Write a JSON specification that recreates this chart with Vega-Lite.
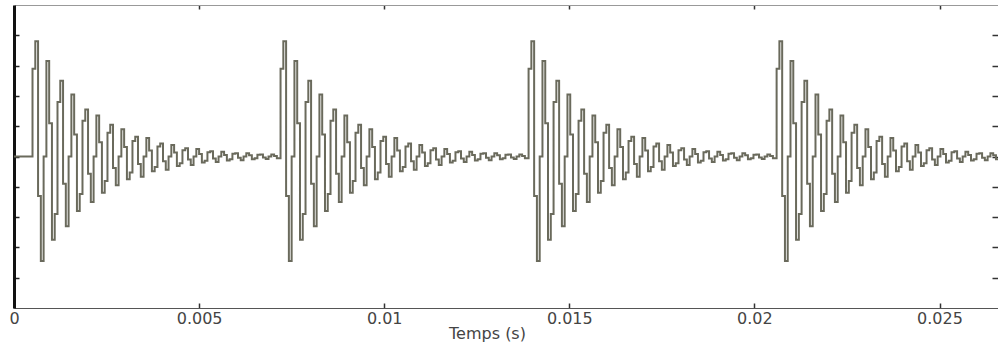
{
"$schema": "https://vega.github.io/schema/vega-lite/v6.json",
"width": 984, "height": 303,
"autosize": {"type": "none"},
"padding": {"left": 14, "top": 5, "right": 0, "bottom": 37},
"background": "white",
"config": {"view": {"stroke": null}, "font": "DejaVu Sans", "axis": {"grid": false}},
"data": {"values": [
{"t":0,"v":0},
{"t":0.0005,"v":2.9},{"t":0.000575,"v":3.8},{"t":0.00065,"v":-1.3},{"t":0.000725,"v":-3.45},{"t":0.0008,"v":0},{"t":0.000875,"v":3.15},{"t":0.00095,"v":1.1},{"t":0.001025,"v":-2.75},{"t":0.0011,"v":-1.9},{"t":0.001175,"v":1.8},{"t":0.00125,"v":2.5},{"t":0.001325,"v":-0.9},{"t":0.0014,"v":-2.3},{"t":0.001475,"v":0},{"t":0.00155,"v":2.05},{"t":0.001625,"v":0.73},{"t":0.0017,"v":-1.8},{"t":0.001775,"v":-1.24},{"t":0.00185,"v":1.18},{"t":0.001925,"v":1.55},{"t":0.002,"v":-0.57},{"t":0.002075,"v":-1.5},{"t":0.00215,"v":0},{"t":0.002225,"v":1.35},{"t":0.0023,"v":0.47},{"t":0.002375,"v":-1.2},{"t":0.00245,"v":-0.81},{"t":0.002525,"v":0.78},{"t":0.0026,"v":1.05},{"t":0.002675,"v":-0.38},{"t":0.00275,"v":-0.95},{"t":0.002825,"v":0},{"t":0.0029,"v":0.9},{"t":0.002975,"v":0.31},{"t":0.00305,"v":-0.75},{"t":0.003125,"v":-0.53},{"t":0.0032,"v":0.51},{"t":0.003275,"v":0.65},{"t":0.00335,"v":-0.25},{"t":0.003425,"v":-0.67},{"t":0.0035,"v":0},{"t":0.003575,"v":0.61},{"t":0.00365,"v":0.2},{"t":0.003725,"v":-0.49},{"t":0.0038,"v":-0.35},{"t":0.003875,"v":0.33},{"t":0.00395,"v":0.43},{"t":0.004025,"v":-0.16},{"t":0.0041,"v":-0.44},{"t":0.004175,"v":0},{"t":0.00425,"v":0.38},{"t":0.004325,"v":0.13},{"t":0.0044,"v":-0.31},{"t":0.004475,"v":-0.22},{"t":0.00455,"v":0.21},{"t":0.004625,"v":0.27},{"t":0.0047,"v":-0.1},{"t":0.004775,"v":-0.28},{"t":0.00485,"v":0},{"t":0.004925,"v":0.25},{"t":0.005,"v":0.08},{"t":0.005075,"v":-0.2},{"t":0.00515,"v":-0.14},{"t":0.005225,"v":0.14},{"t":0.0053,"v":0.17},{"t":0.005375,"v":-0.07},{"t":0.00545,"v":-0.18},{"t":0.005525,"v":0},{"t":0.0056,"v":0.16},{"t":0.005675,"v":0.05},{"t":0.00575,"v":-0.13},{"t":0.005825,"v":-0.09},{"t":0.0059,"v":0.09},{"t":0.005975,"v":0.11},{"t":0.00605,"v":-0.04},{"t":0.006125,"v":-0.12},{"t":0.0062,"v":0},{"t":0.006275,"v":0.11},{"t":0.00635,"v":0.04},{"t":0.006425,"v":-0.09},{"t":0.0065,"v":-0.06},{"t":0.006575,"v":0.06},{"t":0.00665,"v":0.07},{"t":0.006725,"v":-0.03},{"t":0.0068,"v":-0.08},{"t":0.006875,"v":0},{"t":0.00695,"v":0.07},{"t":0.007025,"v":0.02},{"t":0.0071,"v":-0.06},
{"t":0.0072,"v":2.9},{"t":0.007275,"v":3.8},{"t":0.00735,"v":-1.3},{"t":0.007425,"v":-3.45},{"t":0.0075,"v":0},{"t":0.007575,"v":3.15},{"t":0.00765,"v":1.1},{"t":0.007725,"v":-2.75},{"t":0.0078,"v":-1.9},{"t":0.007875,"v":1.8},{"t":0.00795,"v":2.5},{"t":0.008025,"v":-0.9},{"t":0.0081,"v":-2.3},{"t":0.008175,"v":0},{"t":0.00825,"v":2.05},{"t":0.008325,"v":0.73},{"t":0.0084,"v":-1.8},{"t":0.008475,"v":-1.24},{"t":0.00855,"v":1.18},{"t":0.008625,"v":1.55},{"t":0.0087,"v":-0.57},{"t":0.008775,"v":-1.5},{"t":0.00885,"v":0},{"t":0.008925,"v":1.35},{"t":0.009,"v":0.47},{"t":0.009075,"v":-1.2},{"t":0.00915,"v":-0.81},{"t":0.009225,"v":0.78},{"t":0.0093,"v":1.05},{"t":0.009375,"v":-0.38},{"t":0.00945,"v":-0.95},{"t":0.009525,"v":0},{"t":0.0096,"v":0.9},{"t":0.009675,"v":0.31},{"t":0.00975,"v":-0.75},{"t":0.009825,"v":-0.53},{"t":0.0099,"v":0.51},{"t":0.009975,"v":0.65},{"t":0.01005,"v":-0.25},{"t":0.010125,"v":-0.67},{"t":0.0102,"v":0},{"t":0.010275,"v":0.61},{"t":0.01035,"v":0.2},{"t":0.010425,"v":-0.49},{"t":0.0105,"v":-0.35},{"t":0.010575,"v":0.33},{"t":0.01065,"v":0.43},{"t":0.010725,"v":-0.16},{"t":0.0108,"v":-0.44},{"t":0.010875,"v":0},{"t":0.01095,"v":0.38},{"t":0.011025,"v":0.13},{"t":0.0111,"v":-0.31},{"t":0.011175,"v":-0.22},{"t":0.01125,"v":0.21},{"t":0.011325,"v":0.27},{"t":0.0114,"v":-0.1},{"t":0.011475,"v":-0.28},{"t":0.01155,"v":0},{"t":0.011625,"v":0.25},{"t":0.0117,"v":0.08},{"t":0.011775,"v":-0.2},{"t":0.01185,"v":-0.14},{"t":0.011925,"v":0.14},{"t":0.012,"v":0.17},{"t":0.012075,"v":-0.07},{"t":0.01215,"v":-0.18},{"t":0.012225,"v":0},{"t":0.0123,"v":0.16},{"t":0.012375,"v":0.05},{"t":0.01245,"v":-0.13},{"t":0.012525,"v":-0.09},{"t":0.0126,"v":0.09},{"t":0.012675,"v":0.11},{"t":0.01275,"v":-0.04},{"t":0.012825,"v":-0.12},{"t":0.0129,"v":0},{"t":0.012975,"v":0.11},{"t":0.01305,"v":0.04},{"t":0.013125,"v":-0.09},{"t":0.0132,"v":-0.06},{"t":0.013275,"v":0.06},{"t":0.01335,"v":0.07},{"t":0.013425,"v":-0.03},{"t":0.0135,"v":-0.08},{"t":0.013575,"v":0},{"t":0.01365,"v":0.07},{"t":0.013725,"v":0.02},{"t":0.0138,"v":-0.06},
{"t":0.0139,"v":2.9},{"t":0.013975,"v":3.8},{"t":0.01405,"v":-1.3},{"t":0.014125,"v":-3.45},{"t":0.0142,"v":0},{"t":0.014275,"v":3.15},{"t":0.01435,"v":1.1},{"t":0.014425,"v":-2.75},{"t":0.0145,"v":-1.9},{"t":0.014575,"v":1.8},{"t":0.01465,"v":2.5},{"t":0.014725,"v":-0.9},{"t":0.0148,"v":-2.3},{"t":0.014875,"v":0},{"t":0.01495,"v":2.05},{"t":0.015025,"v":0.73},{"t":0.0151,"v":-1.8},{"t":0.015175,"v":-1.24},{"t":0.01525,"v":1.18},{"t":0.015325,"v":1.55},{"t":0.0154,"v":-0.57},{"t":0.015475,"v":-1.5},{"t":0.01555,"v":0},{"t":0.015625,"v":1.35},{"t":0.0157,"v":0.47},{"t":0.015775,"v":-1.2},{"t":0.01585,"v":-0.81},{"t":0.015925,"v":0.78},{"t":0.016,"v":1.05},{"t":0.016075,"v":-0.38},{"t":0.01615,"v":-0.95},{"t":0.016225,"v":0},{"t":0.0163,"v":0.9},{"t":0.016375,"v":0.31},{"t":0.01645,"v":-0.75},{"t":0.016525,"v":-0.53},{"t":0.0166,"v":0.51},{"t":0.016675,"v":0.65},{"t":0.01675,"v":-0.25},{"t":0.016825,"v":-0.67},{"t":0.0169,"v":0},{"t":0.016975,"v":0.61},{"t":0.01705,"v":0.2},{"t":0.017125,"v":-0.49},{"t":0.0172,"v":-0.35},{"t":0.017275,"v":0.33},{"t":0.01735,"v":0.43},{"t":0.017425,"v":-0.16},{"t":0.0175,"v":-0.44},{"t":0.017575,"v":0},{"t":0.01765,"v":0.38},{"t":0.017725,"v":0.13},{"t":0.0178,"v":-0.31},{"t":0.017875,"v":-0.22},{"t":0.01795,"v":0.21},{"t":0.018025,"v":0.27},{"t":0.0181,"v":-0.1},{"t":0.018175,"v":-0.28},{"t":0.01825,"v":0},{"t":0.018325,"v":0.25},{"t":0.0184,"v":0.08},{"t":0.018475,"v":-0.2},{"t":0.01855,"v":-0.14},{"t":0.018625,"v":0.14},{"t":0.0187,"v":0.17},{"t":0.018775,"v":-0.07},{"t":0.01885,"v":-0.18},{"t":0.018925,"v":0},{"t":0.019,"v":0.16},{"t":0.019075,"v":0.05},{"t":0.01915,"v":-0.13},{"t":0.019225,"v":-0.09},{"t":0.0193,"v":0.09},{"t":0.019375,"v":0.11},{"t":0.01945,"v":-0.04},{"t":0.019525,"v":-0.12},{"t":0.0196,"v":0},{"t":0.019675,"v":0.11},{"t":0.01975,"v":0.04},{"t":0.019825,"v":-0.09},{"t":0.0199,"v":-0.06},{"t":0.019975,"v":0.06},{"t":0.02005,"v":0.07},{"t":0.020125,"v":-0.03},{"t":0.0202,"v":-0.08},{"t":0.020275,"v":0},{"t":0.02035,"v":0.07},{"t":0.020425,"v":0.02},{"t":0.0205,"v":-0.06},
{"t":0.0206,"v":2.9},{"t":0.020675,"v":3.8},{"t":0.02075,"v":-1.3},{"t":0.020825,"v":-3.45},{"t":0.0209,"v":0},{"t":0.020975,"v":3.15},{"t":0.02105,"v":1.1},{"t":0.021125,"v":-2.75},{"t":0.0212,"v":-1.9},{"t":0.021275,"v":1.8},{"t":0.02135,"v":2.5},{"t":0.021425,"v":-0.9},{"t":0.0215,"v":-2.3},{"t":0.021575,"v":0},{"t":0.02165,"v":2.05},{"t":0.021725,"v":0.73},{"t":0.0218,"v":-1.8},{"t":0.021875,"v":-1.24},{"t":0.02195,"v":1.18},{"t":0.022025,"v":1.55},{"t":0.0221,"v":-0.57},{"t":0.022175,"v":-1.5},{"t":0.02225,"v":0},{"t":0.022325,"v":1.35},{"t":0.0224,"v":0.47},{"t":0.022475,"v":-1.2},{"t":0.02255,"v":-0.81},{"t":0.022625,"v":0.78},{"t":0.0227,"v":1.05},{"t":0.022775,"v":-0.38},{"t":0.02285,"v":-0.95},{"t":0.022925,"v":0},{"t":0.023,"v":0.9},{"t":0.023075,"v":0.31},{"t":0.02315,"v":-0.75},{"t":0.023225,"v":-0.53},{"t":0.0233,"v":0.51},{"t":0.023375,"v":0.65},{"t":0.02345,"v":-0.25},{"t":0.023525,"v":-0.67},{"t":0.0236,"v":0},{"t":0.023675,"v":0.61},{"t":0.02375,"v":0.2},{"t":0.023825,"v":-0.49},{"t":0.0239,"v":-0.35},{"t":0.023975,"v":0.33},{"t":0.02405,"v":0.43},{"t":0.024125,"v":-0.16},{"t":0.0242,"v":-0.44},{"t":0.024275,"v":0},{"t":0.02435,"v":0.38},{"t":0.024425,"v":0.13},{"t":0.0245,"v":-0.31},{"t":0.024575,"v":-0.22},{"t":0.02465,"v":0.21},{"t":0.024725,"v":0.27},{"t":0.0248,"v":-0.1},{"t":0.024875,"v":-0.28},{"t":0.02495,"v":0},{"t":0.025025,"v":0.25},{"t":0.0251,"v":0.08},{"t":0.025175,"v":-0.2},{"t":0.02525,"v":-0.14},{"t":0.025325,"v":0.14},{"t":0.0254,"v":0.17},{"t":0.025475,"v":-0.07},{"t":0.02555,"v":-0.18},{"t":0.025625,"v":0},{"t":0.0257,"v":0.16},{"t":0.025775,"v":0.05},{"t":0.02585,"v":-0.13},{"t":0.025925,"v":-0.09},{"t":0.026,"v":0.09},{"t":0.026075,"v":0.11},{"t":0.02615,"v":-0.04},{"t":0.026225,"v":-0.12},{"t":0.0263,"v":0},{"t":0.026375,"v":0.11},{"t":0.02645,"v":0.04},{"t":0.026525,"v":-0.09},{"t":0.0266,"v":-0.06}
]},
"layer": [
 {"mark": {"type": "line", "interpolate": "step-after", "stroke": "#6a6a5c", "strokeWidth": 2, "clip": true},
  "encoding": {
   "x": {"field": "t", "type": "quantitative",
         "scale": {"domain": [0, 0.02658], "nice": false, "zero": false},
         "axis": {"orient": "bottom", "values": [0, 0.005, 0.01, 0.015, 0.02, 0.025], "format": "~g",
                  "title": "Temps (s)", "tickSize": -5, "tickColor": "#333", "tickWidth": 1.5,
                  "domainColor": "#555", "domainWidth": 1, "labelFlush": false, "labelOverlap": false, "labelBound": false,
                  "labelFont": "DejaVu Sans", "labelFontSize": 16, "labelColor": "#444", "labelPadding": 7,
                  "titleFont": "DejaVu Sans", "titleFontSize": 16, "titleFontWeight": "normal", "titleColor": "#444",
                  "titleX": 473, "titleY": 17, "titleBaseline": "top", "titleAnchor": "middle"}},
   "y": {"field": "v", "type": "quantitative",
         "scale": {"domain": [-5, 5], "nice": false, "zero": false},
         "axis": {"orient": "left", "values": [-4, -3, -2, -1, 0, 1, 2, 3, 4], "labels": false, "title": null,
                  "tickSize": -5, "tickColor": "#222", "tickWidth": 1.5, "domainColor": "#111", "domainWidth": 3}}
  }},
 {"mark": {"type": "line", "opacity": 0},
  "encoding": {
   "x": {"field": "t", "type": "quantitative",
         "axis": {"orient": "top", "values": [0.005, 0.01, 0.015, 0.02, 0.025], "labels": false, "title": null,
                  "tickSize": -4, "tickColor": "#333", "tickWidth": 1.5, "domainColor": "#999", "domainWidth": 1}},
   "y": {"field": "v", "type": "quantitative",
         "axis": {"orient": "right", "values": [-4, -3, -2, -1, 0, 1, 2, 3, 4], "labels": false, "title": null,
                  "tickSize": -6, "tickColor": "#333", "tickWidth": 1.5, "domainColor": "#bbb", "domainWidth": 1}}
  }}
],
"resolve": {"axis": {"x": "independent", "y": "independent"}}
}
